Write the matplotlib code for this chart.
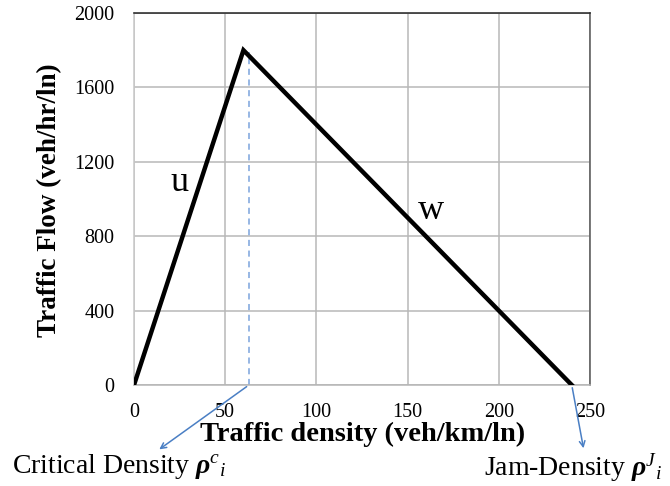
import matplotlib
matplotlib.use("Agg")
import matplotlib.pyplot as plt

plt.rcParams["font.family"] = ["Liberation Serif", "DejaVu Serif"]
plt.rcParams["mathtext.fontset"] = "custom"
plt.rcParams["mathtext.rm"] = "Liberation Serif"
plt.rcParams["mathtext.it"] = "Liberation Serif:italic"
plt.rcParams["mathtext.bf"] = "Liberation Serif:bold:italic"

# fundamental diagram corners
density = [0, 60, 240]
flow = [0, 1800, 0]
critical_density = 63
jam_density = 240
x_ticks = [0, 50, 100, 150, 200, 250]
y_ticks = [0, 400, 800, 1200, 1600, 2000]

fig = plt.figure(figsize=(6.7, 4.86), dpi=100)
ax = fig.add_axes([134 / 670, 1 - 385 / 486, 456 / 670, 372 / 486])

ax.plot(density, flow, color="black", lw=3.2, solid_joinstyle="miter", zorder=3)
ax.plot([critical_density, critical_density], [0, 1790], color="#7aa3dc",
        lw=1.1, ls=(0, (4, 3)), zorder=2)

ax.set_xlim(0, 250)
ax.set_ylim(0, 2000)
ax.set_xticks(x_ticks)
ax.set_yticks(y_ticks)
ax.grid(True, color="#b8b8b8", lw=1.1)
ax.set_axisbelow(True)
ax.tick_params(length=0, labelsize=14.5)
ax.tick_params(axis="y", pad=14)
ax.tick_params(axis="x", pad=13)
ax.spines["top"].set_color("#222222")
ax.spines["right"].set_color("#555555")
ax.spines["left"].set_color("#c8c8c8")
ax.spines["bottom"].set_color("#b5b5b5")
for s in ax.spines.values():
    s.set_linewidth(1.1)

ax.set_xlabel("Traffic density (veh/km/ln)", fontsize=20.5, fontweight="bold", va="center")
ax.xaxis.set_label_coords(0.502, -0.134)
ax.set_ylabel("Traffic Flow (veh/hr/ln)", fontsize=19.5, fontweight="bold", va="center")
ax.yaxis.set_label_coords(-0.184, 0.497)

ax.text(25, 1090, "u", fontsize=26, ha="center", va="center")
ax.text(163, 940, "w", fontsize=26, ha="center", va="center")

ax.annotate("", xy=(157 / 670, 1 - 451 / 486), xycoords="figure fraction",
            xytext=(critical_density, 0), textcoords="data",
            arrowprops=dict(arrowstyle="->", color="#4a7fc4", lw=1.1),
            annotation_clip=False)
ax.annotate("", xy=(584 / 670, 1 - 451 / 486), xycoords="figure fraction",
            xytext=(jam_density, 0), textcoords="data",
            arrowprops=dict(arrowstyle="->", color="#4a7fc4", lw=1.1),
            annotation_clip=False)

fig.text(12 / 670, 1 - 466 / 486, r"Critical Density $\mathbf{\rho}^{c}{}_{i}$",
         fontsize=20, ha="left", va="center")
fig.text(484 / 670, 1 - 468 / 486, r"Jam-Density $\mathbf{\rho}^{J}{}_{i}$",
         fontsize=20, ha="left", va="center")

fig.savefig("out.png", dpi=100)
